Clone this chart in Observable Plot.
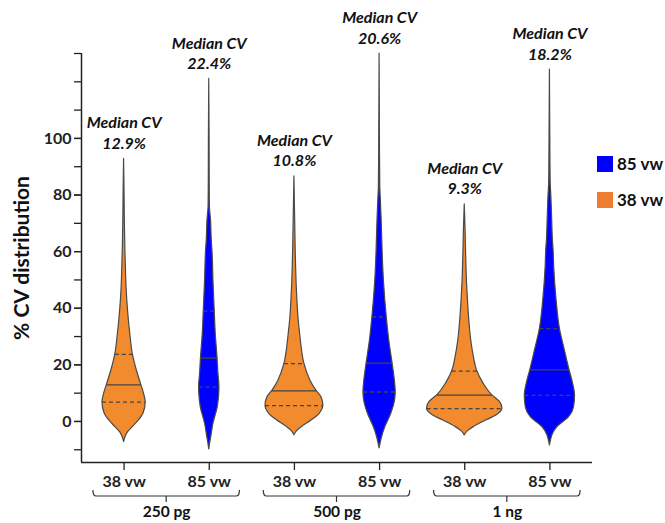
<!DOCTYPE html>
<html><head><meta charset="utf-8">
<script src="https://cdn.jsdelivr.net/npm/d3@7"></script>
<script src="https://cdn.jsdelivr.net/npm/@observablehq/plot@0.6"></script>
<style>
body{margin:0;background:#fff;font-family:Lato,"Open Sans",sans-serif;}
#wrap{position:relative;width:665px;height:523px;}
.leg{position:absolute;left:597px;font:bold 17px Lato,sans-serif;color:#111;display:flex;align-items:center;gap:4px;}
.sw{display:inline-block;width:16px;height:16px;}
</style>
</head><body><div id="wrap"></div>
<script>
// ---- data ----
const groups = ["250 pg", "500 pg", "1 ng"];
const columns = ["38 vw", "85 vw"];
const medianText = ["12.9%", "22.4%", "10.8%", "20.6%", "9.3%", "18.2%"];
const q1  = [6.8, 12.1, 5.6, 10.4, 4.5, 9.2];
const med = [12.9, 22.4, 10.8, 20.6, 9.3, 18.2];
const q3  = [23.7, 39.0, 20.4, 36.9, 17.8, 32.8];
const maxCV = [92.8, 121, 86.6, 130, 76.7, 124.3];
// density profiles: [CV, relative density]
const dens250_38 = [[-7.3,0],[-5.5,1.5],[-3.8,4],[-2,8.7],[0.3,14.7],[2.8,19.5],[6.8,21.7],[9.8,20],[13,17.2],[18,12.8],[23.7,8.8],[31,6.2],[36.9,4.5],[42.8,3.2],[48.7,2.3],[54.5,1.8],[60.4,1.3],[70,0.8],[80,0.5],[92.8,0]];
const dens250_85 = [[-9.9,0],[-7.5,1],[-5.5,2],[-0.8,4.2],[5,8.5],[9.8,10],[12.1,10.2],[16.9,9.2],[22.5,8.3],[31,6.5],[39,5.5],[48.7,4.3],[60.4,3.2],[64,2.5],[71,1.8],[75.7,0.7],[85,0.45],[100,0.35],[121,0]];
const dens500_38 = [[-4.9,0],[-3.5,2.5],[-2,7.5],[0.4,17.5],[2.8,25.5],[5.6,29],[8.6,27],[10.9,22],[14.5,16],[20.4,10],[26.3,7.2],[31,5.7],[36.9,4],[42.8,3],[48.7,2.2],[54.5,1.7],[60.4,1.3],[70,0.8],[86.6,0]];
const dens500_85 = [[-9.5,0],[-7.5,1.2],[-5.5,2.5],[-2,5.8],[2.7,11.7],[7.4,15.5],[10.4,16.2],[14.5,15.3],[20.6,13],[28.6,9.7],[36.9,7.2],[48.7,4.5],[60.4,3],[64,2.7],[72,2],[78,1.3],[82.8,0.7],[95,0.4],[130,0]];
const dens1ng_38 = [[-4.9,0],[-3.5,3],[-2,9],[0.4,22],[2.1,31.7],[4.5,37.8],[6.8,35.5],[9.4,27.2],[13.3,19],[17.8,12.5],[22.7,9.2],[28.6,6.5],[36.9,4.3],[42.8,3.2],[48.7,2.3],[60.4,1.3],[68,0.8],[76.7,0]];
const dens1ng_85 = [[-8.5,0],[-6.5,1.2],[-4.9,2.5],[-2,7.5],[1.5,19.2],[5,24.2],[9.2,25.2],[13.3,23.3],[18.4,19.5],[25.1,15],[32.8,10],[42.8,6.7],[54.5,4.3],[60.4,3.7],[64,3],[72,2.2],[79,1.5],[85,0.7],[100,0.4],[124.3,0]];
const profiles = [dens250_38, dens250_85, dens500_38, dens500_85, dens1ng_38, dens1ng_85];

// ---- styling / layout ----
const orange = "#F28A2E", blue = "#0000FF", legOrange = "#ED7D31";
const k = 0.0117;            // x units per density unit
const xDomain = [-0.5, 5.5], yDomain = [-14.5, 130];
const braceHalf = 0.86;

const rows = profiles.flatMap((p, i) => p.map(([cv, d]) => ({i, cv, d, col: columns[i % 2]})));
function widthAt(p, v) {
  for (let j = 1; j < p.length; j++) {
    if (v <= p[j][0]) { const t = (v - p[j-1][0]) / (p[j][0] - p[j-1][0]); return p[j-1][1] + t * (p[j][1] - p[j-1][1]); }
  }
  return 0;
}
const medRows = med.map((v, i) => ({i, v, w: widthAt(profiles[i], v)}));
const quartRows = [...q1.map((v, i) => ({i, v})), ...q3.map((v, i) => ({i, v}))].map(r => ({...r, w: widthAt(profiles[r.i], r.v)}));
const labelRows = medianText.map((t, i) => ({i, y: maxCV[i], t: "Median CV\n" + t}));

function braces(index, scales, values, dimensions) {
  const g = d3.create("svg:g").attr("stroke", "#333").attr("fill", "none").attr("stroke-width", 1.2);
  const yb = dimensions.height - dimensions.marginBottom + 34;
  groups.forEach((_, gi) => {
    const c = 2 * gi + 0.5;
    const x0 = scales.x(c - braceHalf), x1 = scales.x(c + braceHalf), xc = scales.x(c);
    g.append("path").attr("d", `M${x0},${yb-6}Q${x0},${yb} ${x0+3},${yb}H${x1-3}Q${x1},${yb} ${x1},${yb-6}M${xc},${yb}V${yb+6}`);
  });
  return g.node();
}

const chart = Plot.plot({
  width: 665, height: 523,
  marginTop: 53, marginBottom: 61, marginLeft: 81, marginRight: 73,
  style: {fontFamily: "Lato, 'Open Sans', sans-serif", color: "#222", background: "#fff"},
  x: {domain: xDomain},
  y: {domain: yDomain},
  color: {domain: columns, range: [orange, blue]},
  marks: [
    Plot.areaX(rows, {y: "cv", x1: d => d.i - d.d * k, x2: d => d.i + d.d * k, z: "i", fill: "col", stroke: "#4a4a4a", strokeWidth: 1.2, curve: "monotone-y"}),
    Plot.ruleY(medRows, {y: "v", x1: d => d.i - d.w * k, x2: d => d.i + d.w * k, stroke: "#444", strokeWidth: 1.3}),
    Plot.ruleY(quartRows, {y: "v", x1: d => d.i - d.w * k, x2: d => d.i + d.w * k, stroke: "#444", strokeWidth: 1.3, strokeDasharray: "4,3"}),
    Plot.axisY({ticks: d3.range(-10, 131, 10), tickSize: 7, tickFormat: () => "", label: null, strokeWidth: 1.3}),
    Plot.axisY({ticks: d3.range(0, 101, 20), tickSize: 7, tickPadding: 3, fontSize: 16, fontWeight: "bold", label: null, strokeWidth: 1.3}),
    Plot.axisX({ticks: d3.range(6), tickFormat: i => columns[i % 2], tickSize: 8, tickPadding: 5, fontSize: 16, fontWeight: "bold", label: null, strokeWidth: 1.3}),
    Plot.ruleX([xDomain[0]], {stroke: "#222", strokeWidth: 1.5}),
    Plot.ruleY([yDomain[0]], {stroke: "#222", strokeWidth: 1.5}),
    braces,
    Plot.text(groups, {x: (d, i) => 2 * i + 0.5, frameAnchor: "bottom", dy: 54, fontSize: 15.5, fontWeight: "bold", fill: "#111"}),
    Plot.text(labelRows, {x: "i", y: "y", text: "t", dy: -10, lineAnchor: "bottom", lineHeight: 1.28, fontSize: 16, fontWeight: "bold", fontStyle: "italic", fill: "#111"}),
    Plot.text(["% CV distribution"], {frameAnchor: "left", textAnchor: "middle", rotate: -90, dx: -59, fontSize: 21, fontWeight: "bold", fill: "#111"})
  ]
});
const wrap = document.getElementById("wrap");
wrap.appendChild(chart);
const legendItems = [[columns[1], blue, 153], [columns[0], legOrange, 189]];
legendItems.forEach(([name, c, top]) => {
  const d = document.createElement("div");
  d.className = "leg"; d.style.top = top + "px";
  d.innerHTML = `<span class="sw" style="background:${c}"></span>`;
  d.appendChild(document.createTextNode(name));
  wrap.appendChild(d);
});
</script>
</body></html>
